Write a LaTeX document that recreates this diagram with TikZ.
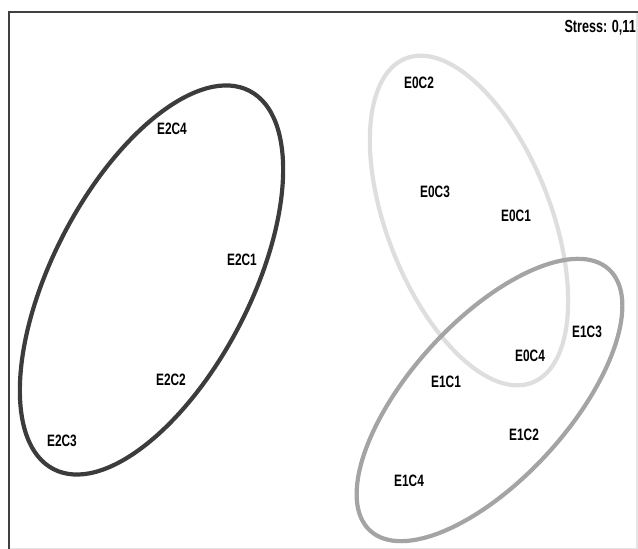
\documentclass[tikz,border=0pt]{standalone}
\usepackage{fontspec}
\newfontfamily\labfont[FakeStretch=0.72]{Liberation Sans}
\definecolor{darkring}{HTML}{3C3C3C}
\definecolor{midring}{HTML}{A4A4A4}
\definecolor{lightring}{HTML}{DEDEDE}
\definecolor{framedark}{HTML}{404040}
\definecolor{framelight}{HTML}{E4E4E4}
\begin{document}
\begin{tikzpicture}[x=1pt,y=1pt,
  lab/.style={inner sep=0pt,anchor=center,font=\labfont\bfseries\fontsize{16.5}{17}\selectfont},
  ring/.style={line width=4.2pt}]
\useasboundingbox (0,0) rectangle (638,549);
% frame
\draw[framelight,line width=1.2pt] (637,537) -- (637,0.5) -- (9,0.5);
\draw[framedark,line width=1.8pt] (9,0) -- (9,537) -- (638,537);
% ellipses
\draw[ring,lightring,rotate around={-68.7:(469,328.5)}] (469,328.5) ellipse [x radius=174, y radius=82];
\draw[ring,midring,rotate around={47.6:(489.5,149)}] (489.5,149) ellipse [x radius=177, y radius=79];
\draw[ring,darkring,rotate around={62.6:(151.5,269)}] (151.5,269) ellipse [x radius=213, y radius=99];
% labels
\node[lab] (e2c4) at (172,420) {E2C4};
\node[lab] (e2c1) at (242,289) {E2C1};
\node[lab] (e2c2) at (171,169) {E2C2};
\node[lab] (e2c3) at (62,108) {E2C3};
\node[lab] (e0c2) at (419,466) {E0C2};
\node[lab] (e0c3) at (435,357) {E0C3};
\node[lab] (e0c1) at (516,333) {E0C1};
\node[lab] (e0c4) at (530,193) {E0C4};
\node[lab] (e1c3) at (587,217) {E1C3};
\node[lab] (e1c1) at (446,167) {E1C1};
\node[lab] (e1c2) at (524,114) {E1C2};
\node[lab] (e1c4) at (409,68) {E1C4};
\node[inner sep=0pt,anchor=east,font=\labfont\bfseries\fontsize{17.5}{18}\selectfont] (stress) at (636,521) {Stress: 0,11};
\end{tikzpicture}
\end{document}
